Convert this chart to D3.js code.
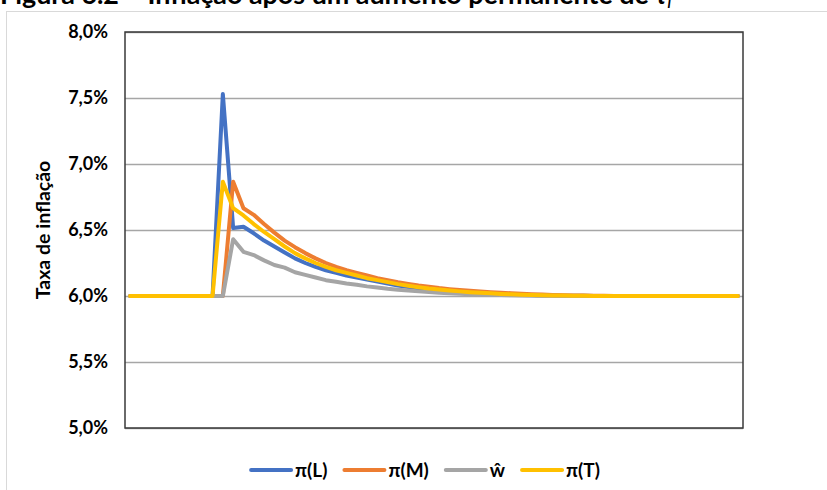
<!DOCTYPE html>
<html>
<head>
<meta charset="utf-8">
<script src="https://cdn.jsdelivr.net/npm/d3@7"></script>
<style>
  html, body { margin: 0; padding: 0; background: #fff; }
  svg { display: block; font-family: Lato, "Liberation Sans", sans-serif; }
</style>
</head>
<body>
<svg id="chart" width="827" height="490"></svg>
<script>
// ---------------- data ----------------
const titleMain = "Figura 6.2 – Inflação após um aumento permanente de ";
const yTitle = "Taxa de inflação";
const yTicks = [5.0, 5.5, 6.0, 6.5, 7.0, 7.5, 8.0];
const periods = d3.range(1, 61);

const piL = [6.0,6.0,6.0,6.0,6.0,6.0,6.0,6.0,6.0,
  7.53,6.515,6.525,6.475,6.42,6.375,6.33,6.285,6.25,6.22,6.195,6.175,6.155,6.14,6.125,6.11,6.095,6.08,
  6.068,6.058,6.049,6.041,6.034,6.028,6.023,6.019,6.015,6.012,6.009,6.007,6.005,6.004,6.003,6.002,6.001,6.001,
  6.0,6.0,6.0,6.0,6.0,6.0,6.0,6.0,6.0,6.0,6.0,6.0,6.0,6.0,6.0];
const piM = [6.0,6.0,6.0,6.0,6.0,6.0,6.0,6.0,6.0,6.0,
  6.866,6.665,6.615,6.545,6.48,6.42,6.37,6.325,6.285,6.25,6.22,6.195,6.175,6.155,6.135,6.12,6.105,
  6.092,6.08,6.07,6.06,6.052,6.045,6.039,6.034,6.029,6.025,6.021,6.017,6.014,6.011,6.008,6.006,6.004,6.003,6.002,6.001,
  6.0,6.0,6.0,6.0,6.0,6.0,6.0,6.0,6.0,6.0,6.0,6.0,6.0];
const wHat = [6.0,6.0,6.0,6.0,6.0,6.0,6.0,6.0,6.0,6.0,
  6.43,6.335,6.31,6.27,6.235,6.215,6.18,6.16,6.14,6.12,6.108,6.095,6.085,6.073,6.064,6.055,6.048,
  6.041,6.035,6.03,6.025,6.021,6.017,6.014,6.011,6.009,6.007,6.005,6.004,6.003,6.002,6.001,
  6.0,6.0,6.0,6.0,6.0,6.0,6.0,6.0,6.0,6.0,6.0,6.0,6.0,6.0,6.0,6.0,6.0,6.0];
const piT = [6.0,6.0,6.0,6.0,6.0,6.0,6.0,6.0,6.0,
  6.866,6.665,6.61,6.545,6.485,6.43,6.375,6.325,6.285,6.25,6.22,6.195,6.175,6.155,6.135,6.12,6.105,6.09,
  6.078,6.067,6.057,6.049,6.042,6.035,6.029,6.024,6.02,6.016,6.013,6.01,6.008,6.006,6.004,6.003,6.002,6.001,
  6.0,6.0,6.0,6.0,6.0,6.0,6.0,6.0,6.0,6.0,6.0,6.0,6.0,6.0,6.0];

const seriesNames = ["π(L)", "π(M)", "ŵ", "π(T)"];
const seriesValues = [piL, piM, wHat, piT];
const seriesColors = ["#4472C4", "#ED7D31", "#A5A5A5", "#FFC000"];

// ---------------- layout ----------------
const svg = d3.select("#chart");
const plot = { left: 125, right: 743, top: 32, bottom: 428 };

const x = d3.scalePoint().domain(periods).range([plot.left, plot.right]).padding(0.5);
const y = d3.scaleLinear().domain([5, 8]).range([plot.bottom, plot.top]);

// outer chart frame (extends past the picture)
svg.append("rect")
  .attr("x", 6.5).attr("y", 11.5).attr("width", 900).attr("height", 600)
  .attr("fill", "none").attr("stroke", "#d9d9d9").attr("stroke-width", 1);

// title (cut at top, as in the reference)
const title = svg.append("text")
  .attr("x", 0).attr("y", 4)
  .attr("font-weight", "bold").attr("font-size", 21).attr("fill", "#000");
title.append("tspan").text(titleMain);
title.append("tspan").attr("font-style", "italic").text("τ");
title.append("tspan").attr("font-style", "italic").attr("font-size", 14).attr("dy", 4).text("l");
const tw = title.node().getComputedTextLength();
title.attr("font-size", 21 * 672 / tw);

// gridlines
const grid = svg.append("g")
  .attr("transform", `translate(${plot.left},0)`)
  .call(d3.axisLeft(y).tickValues(yTicks).tickSize(-(plot.right - plot.left)).tickFormat(""));
grid.select(".domain").remove();
grid.selectAll("line").attr("stroke", "#a6a6a6").attr("stroke-width", 1.5);

// y axis labels
const yAxis = svg.append("g")
  .attr("transform", `translate(${plot.left},0)`)
  .call(d3.axisLeft(y).tickValues(yTicks).tickSize(0).tickPadding(17)
    .tickFormat(v => v.toFixed(1).replace(".", ",") + "%"));
yAxis.select(".domain").remove();
yAxis.selectAll("text")
  .attr("font-family", "Lato, sans-serif")
  .attr("font-weight", "bold").attr("font-size", 18).attr("fill", "#000");

// y title
svg.append("text")
  .attr("transform", `translate(50,${(plot.top + plot.bottom) / 2}) rotate(-90)`)
  .attr("text-anchor", "middle")
  .attr("font-weight", "bold").attr("font-size", 19.5).attr("fill", "#000")
  .text(yTitle);

// lines
const line = d3.line().x((d, i) => x(periods[i])).y(d => y(d));
seriesValues.forEach((vals, k) => {
  svg.append("path")
    .datum(vals)
    .attr("d", line)
    .attr("fill", "none")
    .attr("stroke", seriesColors[k])
    .attr("stroke-width", 4)
    .attr("stroke-linejoin", "round")
    .attr("stroke-linecap", "round");
});

// plot frame
svg.append("rect")
  .attr("x", plot.left).attr("y", plot.top)
  .attr("width", plot.right - plot.left).attr("height", plot.bottom - plot.top)
  .attr("fill", "none").attr("stroke", "#3a3a3a").attr("stroke-width", 1.5);

// legend
const legend = svg.append("g");
const lineLen = 40, gap = 4, itemGap = 17, legY = 470;
let cursor = 0;
seriesNames.forEach((name, k) => {
  const g = legend.append("g");
  g.append("line").attr("x1", 0).attr("x2", lineLen).attr("y1", 0).attr("y2", 0)
    .attr("stroke", seriesColors[k]).attr("stroke-width", 4).attr("stroke-linecap", "round");
  const t = g.append("text").attr("x", lineLen + gap).attr("y", 0).attr("dy", "0.35em")
    .attr("font-weight", "bold").attr("font-size", 19).attr("fill", "#000").text(name);
  const w = lineLen + gap + t.node().getComputedTextLength();
  g.attr("transform", `translate(${cursor},${legY})`);
  cursor += w + itemGap;
});
const total = cursor - itemGap;
legend.attr("transform", `translate(${425.5 - total / 2},0)`);
</script>
</body>
</html>
